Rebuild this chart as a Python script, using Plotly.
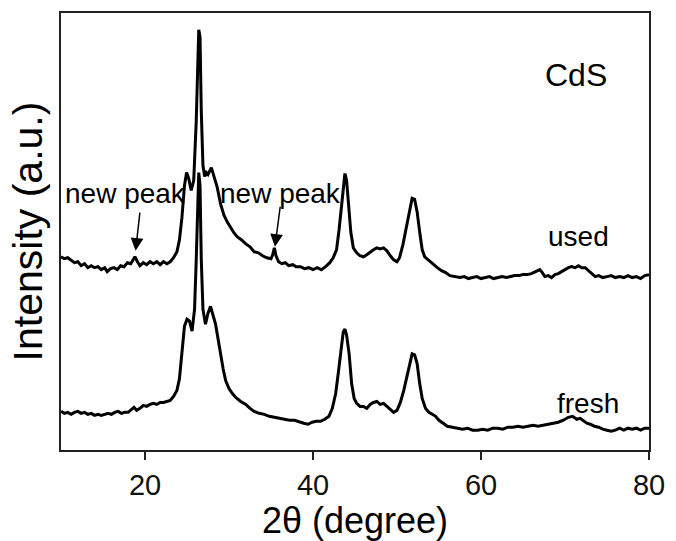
import plotly.graph_objects as go

# ---- data (intensity in arbitrary units) ----
used_2theta = [10.0, 10.4, 10.8, 11.2, 11.6, 12.0, 12.4, 12.8, 13.2, 13.6, 14.0, 14.4, 14.8, 15.2, 15.5, 15.9,
               16.3, 16.7, 17.1, 17.5, 17.9, 18.3, 18.6, 18.8, 19.1, 19.4, 19.8, 20.2, 20.6, 21.0, 21.4, 21.8,
               22.2, 22.6, 23.0, 23.4, 23.8, 24.1, 24.4, 24.7, 24.95, 25.2, 25.5, 25.8, 26.1, 26.3, 26.4, 26.55,
               26.7, 26.9, 27.1, 27.3, 27.5, 27.9, 28.2, 28.6, 29.0, 29.4, 29.8, 30.2, 30.6, 31.0, 31.5, 32.0,
               32.5, 33.0, 33.5, 34.0, 34.5, 35.0, 35.2, 35.4, 35.6, 35.9, 36.3, 36.7, 37.1, 37.6, 38.0, 38.5,
               39.0, 39.5, 40.0, 40.5, 41.0, 41.5, 42.0, 42.4, 42.8, 43.1, 43.4, 43.6, 43.8, 44.0, 44.2, 44.5,
               44.8, 45.2, 45.6, 46.0, 46.4, 46.8, 47.2, 47.6, 48.0, 48.4, 48.8, 49.2, 49.6, 50.0, 50.3, 50.7,
               51.1, 51.5, 51.8, 52.1, 52.4, 52.7, 53.0, 53.3, 53.7, 54.0, 54.4, 54.8, 55.3, 55.8, 56.3, 56.9,
               57.5, 58.0, 58.5, 59.0, 59.5, 60.0, 60.5, 61.0, 61.5, 62.0, 62.5, 63.0, 63.5, 64.0, 64.5, 65.0,
               65.5, 66.0, 66.5, 67.0, 67.3, 67.6, 68.0, 68.4, 68.8, 69.2, 69.6, 70.0, 70.4, 70.8, 71.2, 71.6,
               72.0, 72.4, 72.8, 73.2, 73.6, 74.0, 74.5, 75.0, 75.5, 76.0, 76.5, 77.0, 77.5, 78.0, 78.5, 79.0,
               79.5, 80.0]
used_intensity = [195, 193, 194, 191, 189, 190, 186, 188, 184, 186, 184, 185, 182, 184, 180, 183,
                  184, 182, 186, 185, 189, 188, 192, 195, 190, 186, 189, 187, 190, 188, 190, 187,
                  190, 188, 190, 194, 200, 212, 235, 267, 280, 274, 262, 272, 332, 407, 424, 417,
                  342, 287, 276, 280, 278, 285, 277, 265, 248, 237, 230, 224, 219, 215, 212, 208,
                  205, 200, 199, 196, 194, 193, 197, 204, 196, 190, 188, 189, 186, 187, 185, 185,
                  183, 184, 182, 184, 182, 185, 189, 194, 202, 222, 247, 267, 279, 272, 252, 220,
                  204, 199, 196, 195, 197, 200, 202, 204, 203, 204, 201, 196, 192, 190, 194, 207,
                  224, 244, 254, 253, 240, 220, 202, 195, 192, 189, 187, 184, 181, 179, 176, 175,
                  174, 175, 173, 174, 175, 173, 174, 175, 173, 174, 175, 174, 175, 176, 176, 177,
                  177, 178, 180, 182, 179, 175, 176, 174, 177, 178, 180, 182, 184, 185, 184, 186,
                  184, 184, 181, 178, 175, 176, 174, 175, 176, 174, 175, 174, 176, 174, 175, 173,
                  176, 177]

fresh_2theta = [10.0, 10.4, 10.8, 11.2, 11.6, 12.0, 12.4, 12.8, 13.2, 13.6, 14.0, 14.4, 14.8, 15.2, 15.6, 16.0,
                16.4, 16.8, 17.2, 17.6, 18.0, 18.4, 18.7, 19.0, 19.4, 19.8, 20.2, 20.6, 21.0, 21.4, 21.8, 22.2,
                22.6, 23.0, 23.4, 23.8, 24.1, 24.4, 24.7, 25.0, 25.3, 25.6, 25.9, 26.1, 26.3, 26.4, 26.55, 26.7,
                26.9, 27.2, 27.5, 27.8, 28.1, 28.4, 28.7, 29.0, 29.3, 29.6, 30.0, 30.4, 30.8, 31.4, 32.0, 32.5,
                33.0, 33.6, 34.2, 34.8, 35.4, 36.0, 36.6, 37.2, 37.8, 38.4, 38.9, 39.4, 39.9, 40.4, 40.9, 41.4,
                41.9, 42.3, 42.7, 43.0, 43.3, 43.6, 43.8, 44.0, 44.3, 44.6, 44.9, 45.2, 45.6, 46.0, 46.4, 46.8,
                47.2, 47.6, 48.0, 48.4, 48.8, 49.2, 49.6, 50.0, 50.4, 50.8, 51.1, 51.5, 51.8, 52.1, 52.4, 52.7,
                53.0, 53.4, 53.8, 54.2, 54.6, 55.0, 55.5, 56.0, 56.6, 57.2, 57.8, 58.4, 59.0, 59.6, 60.2, 60.8,
                61.4, 62.0, 62.6, 63.2, 63.8, 64.4, 65.0, 65.6, 66.2, 66.8, 67.4, 68.0, 68.6, 69.2, 69.8, 70.4,
                70.9, 71.4, 71.8, 72.2, 72.6, 73.0, 73.5, 74.0, 74.5, 75.0, 75.5, 76.0, 76.5, 77.0, 77.5, 78.0,
                78.5, 79.0, 79.5, 80.0]
fresh_intensity = [39, 37, 38, 36, 38, 39, 37, 38, 36, 37, 35, 36, 35, 36, 37, 36,
                   38, 39, 37, 38, 38, 41, 43, 40, 42, 45, 44, 46, 47, 46, 48, 48,
                   49, 50, 54, 60, 72, 99, 125, 132, 130, 120, 142, 192, 262, 280, 267, 192,
                   142, 127, 138, 145, 136, 127, 112, 96, 82, 70, 62, 57, 53, 49, 46, 42,
                   39, 37, 36, 34, 33, 32, 31, 30, 30, 28, 27, 26, 28, 29, 29, 31,
                   34, 42, 57, 77, 100, 119, 122, 116, 97, 67, 52, 47, 44, 44, 42, 46,
                   48, 49, 46, 47, 44, 41, 38, 40, 48, 60, 72, 88, 97, 96, 87, 67,
                   52, 42, 38, 36, 34, 30, 27, 24, 23, 22, 21, 22, 20, 20, 21, 20,
                   22, 22, 21, 23, 23, 24, 23, 24, 25, 24, 25, 26, 27, 28, 30, 33,
                   34, 31, 32, 29, 27, 26, 24, 23, 21, 20, 19, 20, 22, 20, 22, 21,
                   22, 20, 22, 22]

x_tick_values = [20, 40, 60, 80]
x_range = [10, 80]
y_range = [0, 441]

# labels: (text, 2theta, intensity, font size)
curve_labels = [("CdS", 71.3, 378, 32), ("used", 71.6, 215, 28), ("fresh", 72.7, 47, 28),
                ("new peak", 17.65, 259, 28), ("new peak", 36.15, 259, 28)]
# arrows: (tip 2theta, tip intensity, tail 2theta, tail intensity)
peak_arrows = [(18.88, 201, 19.41, 241), (35.47, 205, 36.12, 247)]

FONT = "Arial, 'Liberation Sans', sans-serif"

fig = go.Figure()
fig.add_trace(go.Scatter(x=used_2theta, y=used_intensity, mode="lines",
                         line=dict(color="black", width=3), showlegend=False))
fig.add_trace(go.Scatter(x=fresh_2theta, y=fresh_intensity, mode="lines",
                         line=dict(color="black", width=3), showlegend=False))

annotations = []
for text, xv, yv, fs in curve_labels:
    annotations.append(dict(x=xv, y=yv, xref="x", yref="y", text=text, showarrow=False,
                            xanchor="center", yanchor="middle",
                            font=dict(family=FONT, size=fs, color="black")))
for tx, ty, sx, sy in peak_arrows:
    annotations.append(dict(x=tx, y=ty, xref="x", yref="y", ax=sx, ay=sy, axref="x", ayref="y",
                            text="", showarrow=True, arrowhead=2, arrowsize=1.7, arrowwidth=1.5,
                            arrowcolor="black", standoff=0, startstandoff=0))

fig.update_layout(
    width=676, height=541,
    margin=dict(l=61, r=20, t=11, b=89),
    paper_bgcolor="white", plot_bgcolor="white",
    font=dict(family=FONT, color="black"),
    annotations=annotations,
    xaxis=dict(range=x_range, tickvals=x_tick_values, ticks="outside", ticklen=8, tickwidth=1.5,
               tickcolor="#222", showline=True, linecolor="#222", linewidth=1.5, mirror=True,
               showgrid=False, zeroline=False,
               tickfont=dict(family=FONT, size=29, color="#111"),
               title=dict(text="2θ (degree)", font=dict(family=FONT, size=36, color="black"), standoff=4)),
    yaxis=dict(range=y_range, showticklabels=False, ticks="", showline=True, linecolor="#222",
               linewidth=1.5, mirror=True, showgrid=False, zeroline=False,
               title=dict(text="Intensity (a.u.)", font=dict(family=FONT, size=41, color="black"), standoff=4)),
)

fig.write_html("out.html")
